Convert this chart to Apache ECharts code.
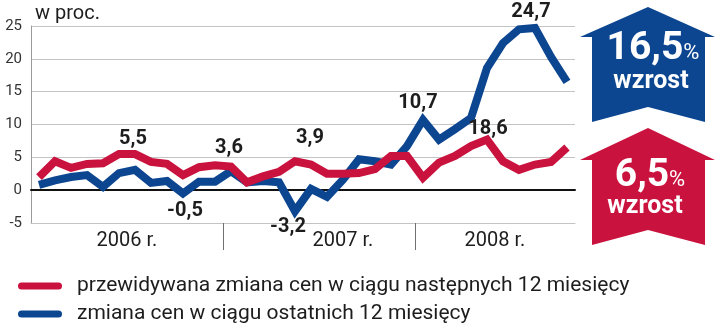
<!DOCTYPE html>
<html>
<head>
<meta charset="utf-8">
<script src="https://cdn.jsdelivr.net/npm/echarts@6/dist/echarts.min.js"></script>
<style>
  html, body { margin: 0; padding: 0; background: #ffffff; }
  #chart { width: 720px; height: 328px; }
</style>
</head>
<body>
<div id="chart"></div>
<script>
// Monthly price-change survey, Jan 2006 – Oct 2008 (per cent)
const years = ['2006', '2007', '2008'];
const yearLabels = ['2006 r.', '2007 r.', '2008 r.'];
const monthsPerYear = [12, 12, 10];
const yTicks = [-5, 0, 5, 10, 15, 20, 25];

const seriesNames = [
  'przewidywana zmiana cen w ciągu następnych 12 miesięcy',
  'zmiana cen w ciągu ostatnich 12 miesięcy'
];

// expected change over the next 12 months
const expected = [
  2.0, 4.4, 3.4, 4.0, 4.1, 5.5, 5.5, 4.3, 4.0, 2.3, 3.5, 3.8,
  3.6, 1.2, 2.1, 2.8, 4.4, 3.9, 2.5, 2.5, 2.6, 3.2, 5.2, 5.2,
  1.9, 4.2, 5.2, 6.7, 7.7, 4.4, 3.1, 3.9, 4.3, 6.5
];

// change over the last 12 months
const recent = [
  0.8, 1.5, 2.0, 2.3, 0.5, 2.6, 3.1, 1.1, 1.4, -0.5, 1.3, 1.3,
  2.9, 1.2, 1.4, 1.2, -3.2, 0.2, -1.0, 1.6, 4.7, 4.4, 3.9, 6.7,
  10.7, 7.7, 9.3, 11.0, 18.6, 22.4, 24.5, 24.7, 20.3, 16.5
];

// points carrying a value label
const expectedLabelled = [6, 12, 17];
const recentLabelled = [9, 16, 24, 28, 31];

// ---- styling / layout ----
const RED = '#c9123e';
const BLUE = '#0d4690';
const FONT = 'Roboto, "Liberation Sans", Arial, sans-serif';

const labelOffsets = {
  expected: { 6: [-2, -15], 12: [-2, -19], 17: [-1, -27] },
  recent: { 9: [2, 18], 16: [-7, 16], 24: [-5, -17], 28: [1, 61], 31: [-4, -16] }
};
const yearLabelShift = [0, 1.5, 0];

const fmt = v => v.toFixed(1).replace('.', ',');

// month categories
const months = [];
years.forEach((y, i) => {
  for (let m = 1; m <= monthsPerYear[i]; m++) {
    months.push(y + '-' + String(m).padStart(2, '0'));
  }
});

// year boundaries and label positions along the month scale
const yearStarts = [];
let acc = 0;
monthsPerYear.forEach(n => { yearStarts.push(acc); acc += n; });
const yearBoundaries = yearStarts.slice(1);
const yearCenters = yearStarts.map((s, i) => s + monthsPerYear[i] / 2 + yearLabelShift[i]);

function buildData(values, labelled, offsets) {
  return values.map((v, i) => labelled.indexOf(i) >= 0
    ? { value: v, label: { show: true, position: 'inside', offset: offsets[i] } }
    : v);
}

const valueLabel = {
  show: false,
  formatter: p => fmt(p.value),
  fontFamily: FONT,
  fontSize: 20,
  fontWeight: 'bold',
  color: '#1d1d1d'
};

function arrow(top, head, bottom, notch) {
  return [[648, top], [715, head], [705, head], [705, bottom], [648, notch],
          [592, bottom], [592, head], [580, head]];
}

const lastRecent = recent[recent.length - 1];
const lastExpected = expected[expected.length - 1];

const chart = echarts.init(document.getElementById('chart'), null, { renderer: 'canvas' });

chart.setOption({
  animation: false,
  backgroundColor: '#ffffff',
  textStyle: { fontFamily: FONT },
  grid: { left: 31, right: 145, top: 26, bottom: 105 },
  legend: {
    orient: 'vertical',
    left: 18,
    top: 275,
    padding: 0,
    itemWidth: 44,
    itemHeight: 7,
    itemGap: 6,
    icon: 'path://M3.5,0 H40.5 A3.5,3.5 0 0 1 40.5,7 H3.5 A3.5,3.5 0 0 1 3.5,0 Z',
    selectedMode: false,
    textStyle: { fontFamily: FONT, fontSize: 21, color: '#1d1d1d', lineHeight: 22, padding: [0, 0, 0, 10] },
    data: [
      { name: seriesNames[0], itemStyle: { color: RED } },
      { name: seriesNames[1], itemStyle: { color: BLUE } }
    ]
  },
  xAxis: [
    {
      type: 'category',
      data: months,
      boundaryGap: true,
      axisLine: { onZero: true, lineStyle: { color: '#111111', width: 2 } },
      axisTick: { show: false },
      axisLabel: { show: false },
      splitLine: { show: false }
    },
    {
      type: 'value',
      min: 0,
      max: months.length,
      position: 'bottom',
      axisLine: { show: true, onZero: false, lineStyle: { color: '#c4c4c4', width: 1 } },
      axisTick: { show: true, customValues: yearBoundaries, length: 27, lineStyle: { color: '#707070', width: 1 } },
      axisLabel: {
        customValues: yearCenters,
        formatter: v => yearLabels[yearCenters.indexOf(v)] || '',
        fontFamily: FONT,
        fontSize: 20,
        color: '#1d1d1d',
        margin: 8
      },
      splitLine: { show: false }
    }
  ],
  yAxis: {
    type: 'value',
    min: yTicks[0],
    max: yTicks[yTicks.length - 1],
    interval: yTicks[1] - yTicks[0],
    name: 'w proc.',
    nameLocation: 'end',
    nameGap: 12,
    nameTextStyle: { fontFamily: FONT, fontSize: 20, color: '#1d1d1d', align: 'left', verticalAlign: 'middle', padding: [0, 0, 0, 4] },
    axisLine: { show: true, lineStyle: { color: '#9a9a9a', width: 1 } },
    axisTick: { show: false },
    axisLabel: { fontFamily: FONT, fontSize: 15, color: '#333333', margin: 9 },
    splitLine: { show: true, lineStyle: { color: '#c4c4c4', width: 1 } }
  },
  series: [
    {
      name: seriesNames[1],
      type: 'line',
      xAxisIndex: 0,
      data: buildData(recent, recentLabelled, labelOffsets.recent),
      showSymbol: true,
      symbol: 'circle',
      symbolSize: 1,
      itemStyle: { color: 'rgba(0,0,0,0)', borderWidth: 0 },
      lineStyle: { color: BLUE, width: 8, join: 'miter', cap: 'butt' },
      label: valueLabel,
      emphasis: { disabled: true },
      silent: true,
      z: 3
    },
    {
      name: seriesNames[0],
      type: 'line',
      xAxisIndex: 0,
      data: buildData(expected, expectedLabelled, labelOffsets.expected),
      showSymbol: true,
      symbol: 'circle',
      symbolSize: 1,
      itemStyle: { color: 'rgba(0,0,0,0)', borderWidth: 0 },
      lineStyle: { color: RED, width: 8, join: 'miter', cap: 'butt' },
      label: valueLabel,
      emphasis: { disabled: true },
      silent: true,
      z: 4
    }
  ],
  graphic: [
    { type: 'polygon', shape: { points: arrow(7, 37, 122, 107) }, style: { fill: BLUE }, silent: true },
    { type: 'polygon', shape: { points: arrow(128, 160, 245, 230) }, style: { fill: RED }, silent: true },
    {
      type: 'text', x: 653, y: 49, silent: true,
      style: {
        text: '{n|' + fmt(lastRecent) + '}{p|%}',
        align: 'center', verticalAlign: 'middle',
        rich: {
          n: { fontFamily: FONT, fontSize: 39, fontWeight: 'bold', fill: '#ffffff' },
          p: { fontFamily: FONT, fontSize: 22, fill: '#ffffff', padding: [9, 0, 0, 0] }
        }
      }
    },
    {
      type: 'text', x: 651, y: 82, silent: true,
      style: { text: 'wzrost', align: 'center', verticalAlign: 'middle', fontFamily: FONT, fontSize: 25, fontWeight: 'bold', fill: '#ffffff' }
    },
    {
      type: 'text', x: 650, y: 176, silent: true,
      style: {
        text: '{n|' + fmt(lastExpected) + '}{p|%}',
        align: 'center', verticalAlign: 'middle',
        rich: {
          n: { fontFamily: FONT, fontSize: 39, fontWeight: 'bold', fill: '#ffffff' },
          p: { fontFamily: FONT, fontSize: 22, fill: '#ffffff', padding: [9, 0, 0, 0] }
        }
      }
    },
    {
      type: 'text', x: 645, y: 207, silent: true,
      style: { text: 'wzrost', align: 'center', verticalAlign: 'middle', fontFamily: FONT, fontSize: 25, fontWeight: 'bold', fill: '#ffffff' }
    }
  ]
});
</script>
</body>
</html>
